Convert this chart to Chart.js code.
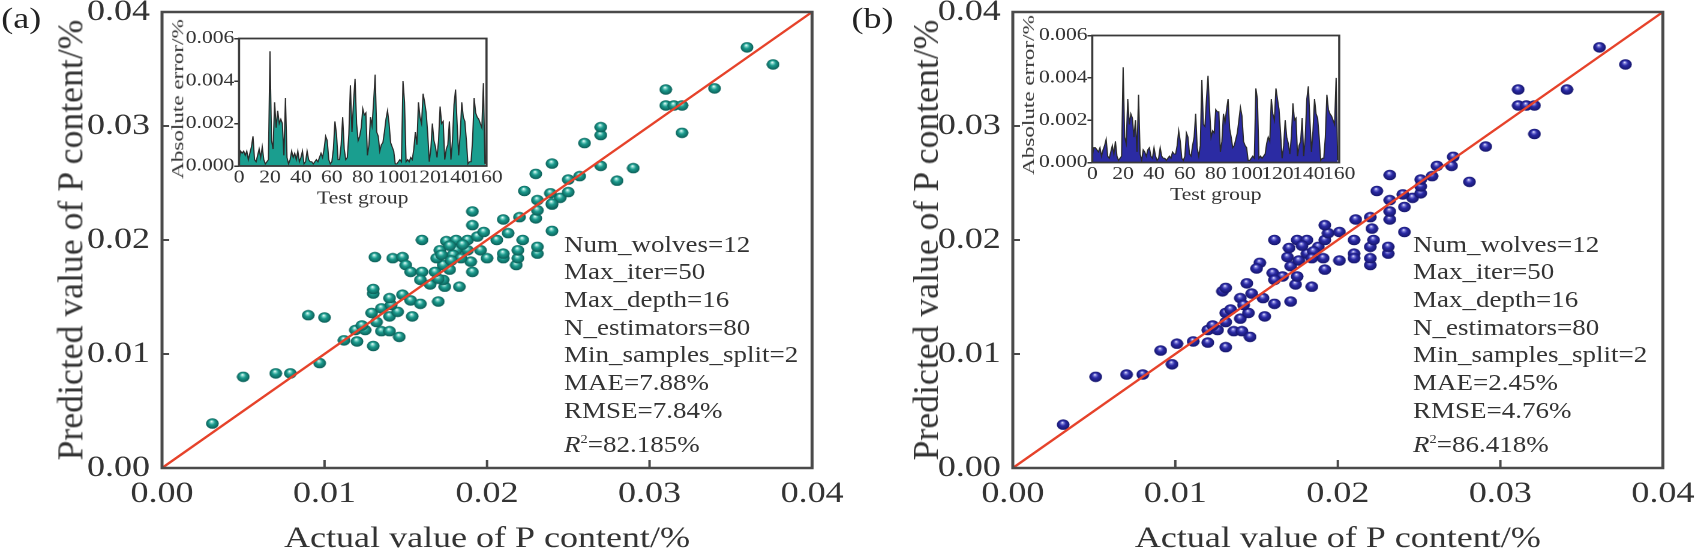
<!DOCTYPE html>
<html><head><meta charset="utf-8">
<script src="https://cdn.jsdelivr.net/npm/chart.js@4.4.1/dist/chart.umd.min.js"></script>
<style>
html,body{margin:0;padding:0;background:#fff;width:1695px;height:550px;overflow:hidden;}
#stage{position:absolute;left:0;top:0;width:1412.5px;height:550px;transform:scaleX(1.2);transform-origin:0 0;font-family:'Liberation Serif','Times New Roman',serif;color:#333;}
canvas{position:absolute;}
.ytitle{position:absolute;white-space:nowrap;line-height:1;color:#333;}
.note{position:absolute;font-size:22.5px;line-height:27.7px;white-space:nowrap;color:#333;}
.note sup{font-size:12px;line-height:0;vertical-align:9px;}
.panel{position:absolute;font-size:30px;line-height:30px;color:#222;}
</style></head><body>
<div id="stage">
  <canvas id="mainA" width="720" height="550" style="left:0px;top:0px"></canvas>
  <canvas id="mainB" width="720" height="550" style="left:708.75px;top:0px"></canvas>
  <canvas id="insetA" width="300" height="200" style="left:120px;top:20px"></canvas>
  <canvas id="insetB" width="300" height="200" style="left:830.8px;top:16.5px"></canvas>
  <div class="panel" style="left:1px;top:3px">(a)</div>
  <div class="panel" style="left:709.5px;top:3px">(b)</div>
  <div class="ytitle" style="left:58.8px;top:240px;font-size:30px;transform:translate(-50%,-50%) rotate(-90deg) scaleX(1.19)">Predicted value of P content/%</div>
  <div class="ytitle" style="left:771.7px;top:240px;font-size:30px;transform:translate(-50%,-50%) rotate(-90deg) scaleX(1.19)">Predicted value of P content/%</div>
  <div class="ytitle" style="left:149px;top:99px;font-size:14px;transform:translate(-50%,-50%) rotate(-90deg) scaleX(1.65)">Absolute error/%</div>
  <div class="ytitle" style="left:858.3px;top:95px;font-size:14px;transform:translate(-50%,-50%) rotate(-90deg) scaleX(1.65)">Absolute error/%</div>
  <div class="note" style="left:470px;top:230.5px">
    <div>Num_wolves=12</div><div>Max_iter=50</div><div>Max_depth=16</div><div>N_estimators=80</div>
    <div>Min_samples_split=2</div><div>MAE=7.88%</div><div>RMSE=7.84%</div>
    <div style="margin-top:7px"><i>R</i><sup>2</sup>=82.185%</div>
  </div>
  <div class="note" style="left:1177.5px;top:230.5px">
    <div>Num_wolves=12</div><div>Max_iter=50</div><div>Max_depth=16</div><div>N_estimators=80</div>
    <div>Min_samples_split=2</div><div>MAE=2.45%</div><div>RMSE=4.76%</div>
    <div style="margin-top:7px"><i>R</i><sup>2</sup>=86.418%</div>
  </div>
</div>
<script>
// ---------------- DATA ----------------
const mainTickLabels = ['0.00','0.01','0.02','0.03','0.04'];
const insetXLabels = ['0','20','40','60','80','100','120','140','160'];
const insetYLabels = ['0.000','0.002','0.004','0.006'];
const fitX = [0, 0.04];
const fitY = [0, 0.04];

const actualA = [0.0031,0.0050,0.0070,0.0079,0.0090,0.0100,0.0097,0.0112,0.0120,0.0130,
 0.0119,0.0125,0.0135,0.0140,0.0146,0.0123,0.0132,0.0129,0.0140,0.0154,
 0.0145,0.0135,0.0141,0.0130,0.0130,0.0140,0.0148,0.0153,0.0159,0.0170,
 0.0142,0.0148,0.0131,0.0150,0.0153,0.0160,0.0160,0.0159,0.0165,0.0183,
 0.0174,0.0173,0.0170,0.0168,0.0177,0.0173,0.0191,0.0190,0.0188,0.0181,
 0.0179,0.0169,0.0171,0.0175,0.0181,0.0188,0.0196,0.0200,0.0210,0.0210,
 0.0218,0.0219,0.0219,0.0231,0.0231,0.0222,0.0240,0.0206,0.0213,0.0194,
 0.0198,0.0191,0.0191,0.0210,0.0220,0.0230,0.0231,0.0240,0.0231,0.0245,
 0.0250,0.0239,0.0223,0.0177,0.0185,0.0172,0.0184,0.0178,0.0230,0.0257,
 0.0250,0.0240,0.0270,0.0280,0.0290,0.0260,0.0270,0.0270,0.0310,0.0310,
 0.0315,0.0320,0.0320,0.0340,0.0360,0.0376,0.0240];
const predictedA = [0.0039,0.0080,0.0083,0.0083,0.0134,0.0132,0.0092,0.0112,0.0111,0.0107,
 0.0121,0.0121,0.0120,0.0120,0.0115,0.0125,0.0128,0.0136,0.0133,0.0133,
 0.0137,0.0140,0.0143,0.0153,0.0157,0.0149,0.0152,0.0147,0.0144,0.0146,
 0.0184,0.0185,0.0185,0.0178,0.0172,0.0200,0.0172,0.0165,0.0161,0.0159,
 0.0159,0.0165,0.0166,0.0172,0.0174,0.0178,0.0172,0.0181,0.0191,0.0191,
 0.0187,0.0184,0.0191,0.0199,0.0200,0.0200,0.0191,0.0184,0.0184,0.0188,
 0.0178,0.0184,0.0191,0.0188,0.0194,0.0200,0.0208,0.0200,0.0206,0.0203,
 0.0207,0.0213,0.0225,0.0218,0.0220,0.0219,0.0226,0.0231,0.0235,0.0237,
 0.0242,0.0241,0.0243,0.0195,0.0196,0.0187,0.0184,0.0182,0.0258,0.0256,
 0.0253,0.0267,0.0265,0.0252,0.0263,0.0285,0.0292,0.0299,0.0332,0.0318,
 0.0318,0.0318,0.0294,0.0333,0.0369,0.0354,0.0232];

const actualB = [0.0031,0.0051,0.0070,0.0080,0.0091,0.0101,0.0098,0.0111,0.0120,0.0131,
 0.0120,0.0126,0.0123,0.0136,0.0141,0.0146,0.0131,0.0131,0.0129,0.0131,
 0.0144,0.0140,0.0145,0.0134,0.0140,0.0147,0.0142,0.0155,0.0154,0.0161,
 0.0171,0.0152,0.0150,0.0161,0.0160,0.0166,0.0161,0.0174,0.0184,0.0175,
 0.0171,0.0176,0.0192,0.0191,0.0181,0.0169,0.0170,0.0175,0.0181,0.0188,
 0.0192,0.0194,0.0201,0.0192,0.0201,0.0210,0.0210,0.0210,0.0220,0.0220,
 0.0220,0.0231,0.0231,0.0222,0.0221,0.0241,0.0211,0.0220,0.0232,0.0232,
 0.0241,0.0232,0.0246,0.0251,0.0240,0.0224,0.0251,0.0251,0.0258,0.0232,
 0.0261,0.0270,0.0271,0.0178,0.0185,0.0184,0.0281,0.0291,0.0311,0.0311,
 0.0316,0.0321,0.0321,0.0341,0.0361,0.0377];
const predictedB = [0.0038,0.0080,0.0082,0.0082,0.0103,0.0109,0.0091,0.0111,0.0110,0.0106,
 0.0121,0.0121,0.0125,0.0120,0.0120,0.0115,0.0136,0.0128,0.0155,0.0158,
 0.0162,0.0131,0.0136,0.0139,0.0149,0.0153,0.0143,0.0133,0.0149,0.0144,
 0.0146,0.0180,0.0175,0.0200,0.0171,0.0168,0.0165,0.0161,0.0159,0.0168,
 0.0177,0.0182,0.0174,0.0184,0.0188,0.0185,0.0193,0.0200,0.0200,0.0194,
 0.0200,0.0206,0.0207,0.0213,0.0182,0.0200,0.0188,0.0184,0.0178,0.0184,
 0.0194,0.0188,0.0194,0.0200,0.0210,0.0207,0.0218,0.0220,0.0218,0.0225,
 0.0229,0.0235,0.0237,0.0241,0.0240,0.0243,0.0247,0.0253,0.0256,0.0257,
 0.0265,0.0265,0.0273,0.0195,0.0190,0.0184,0.0251,0.0282,0.0332,0.0318,
 0.0318,0.0318,0.0293,0.0332,0.0369,0.0354];

const errA = [0.0003,0.0007,0.0006,0.0007,0.0005,0.0007,0.0003,0.0006,0.0009,0.0014,
 0.0003,0.0002,0.0005,0.0008,0.0004,0.0009,0.0003,0.0001,0.0002,0.0003,
 0.0054,0.0012,0.0008,0.0030,0.0018,0.0026,0.0020,0.0022,0.0020,0.0005,
 0.0032,0.0004,0.0001,0.0003,0.0007,0.0004,0.0006,0.0003,0.0007,0.0002,
 0.0004,0.0007,0.0001,0.0002,0.0007,0.0003,0.0002,0.0002,0.0001,0.0002,
 0.0003,0.0002,0.0004,0.0006,0.0004,0.0008,0.0014,0.0012,0.0003,0.0001,
 0.0002,0.0008,0.0021,0.0015,0.0003,0.0003,0.0010,0.0023,0.0008,0.0003,
 0.0004,0.0015,0.0038,0.0016,0.0030,0.0041,0.0020,0.0012,0.0014,0.0018,
 0.0027,0.0024,0.0025,0.0005,0.0010,0.0023,0.0019,0.0030,0.0043,0.0016,
 0.0014,0.0007,0.0010,0.0011,0.0016,0.0022,0.0026,0.0020,0.0011,0.0009,
 0.0007,0.0001,0.0001,0.0002,0.0003,0.0002,0.0040,0.0030,0.0002,0.0003,
 0.0002,0.0004,0.0003,0.0008,0.0016,0.0010,0.0030,0.0023,0.0020,0.0034,
 0.0030,0.0025,0.0015,0.0002,0.0008,0.0020,0.0012,0.0009,0.0004,0.0012,
 0.0028,0.0020,0.0021,0.0003,0.0008,0.0010,0.0021,0.0003,0.0012,0.0029,
 0.0036,0.0020,0.0005,0.0015,0.0030,0.0023,0.0021,0.0012,0.0001,0.0002,
 0.0002,0.0012,0.0032,0.0025,0.0023,0.0022,0.0020,0.0018,0.0039,0.0001];
const errB = [0.0003,0.0007,0.0007,0.0006,0.0005,0.0007,0.0003,0.0006,0.0008,0.0011,
 0.0003,0.0002,0.0005,0.0008,0.0004,0.0010,0.0003,0.0001,0.0002,0.0003,
 0.0045,0.0012,0.0009,0.0030,0.0018,0.0023,0.0021,0.0012,0.0020,0.0005,
 0.0032,0.0004,0.0001,0.0006,0.0005,0.0003,0.0006,0.0007,0.0003,0.0002,
 0.0007,0.0003,0.0001,0.0002,0.0007,0.0003,0.0002,0.0002,0.0001,0.0002,
 0.0003,0.0002,0.0005,0.0004,0.0004,0.0008,0.0015,0.0010,0.0002,0.0001,
 0.0003,0.0014,0.0012,0.0004,0.0003,0.0008,0.0012,0.0023,0.0007,0.0003,
 0.0008,0.0039,0.0018,0.0017,0.0030,0.0041,0.0025,0.0012,0.0015,0.0014,
 0.0025,0.0024,0.0024,0.0005,0.0010,0.0023,0.0019,0.0025,0.0030,0.0016,
 0.0012,0.0007,0.0008,0.0011,0.0014,0.0020,0.0026,0.0022,0.0010,0.0008,
 0.0007,0.0001,0.0001,0.0002,0.0003,0.0002,0.0035,0.0030,0.0002,0.0003,
 0.0002,0.0003,0.0004,0.0009,0.0012,0.0010,0.0030,0.0023,0.0020,0.0035,
 0.0030,0.0025,0.0014,0.0002,0.0008,0.0020,0.0012,0.0009,0.0004,0.0012,
 0.0028,0.0020,0.0021,0.0003,0.0008,0.0010,0.0021,0.0003,0.0012,0.0030,
 0.0036,0.0020,0.0005,0.0015,0.0030,0.0023,0.0021,0.0012,0.0001,0.0002,
 0.0002,0.0012,0.0032,0.0025,0.0023,0.0022,0.0020,0.0018,0.0040,0.0001];
const testGroup = errA.map((_, i) => i);

// ---------------- DRAWING ----------------
Chart.defaults.font.family = "'Liberation Serif','Times New Roman',serif";
Chart.defaults.color = '#333';

const framePlugin = {
  id: 'frame',
  beforeDatasetsDraw(chart, args, o) {
    if (!o.fill) return;
    const a = chart.chartArea, ctx = chart.ctx;
    ctx.save(); ctx.fillStyle = o.fill;
    ctx.fillRect(a.left, a.top, a.right - a.left, a.bottom - a.top);
    ctx.restore();
  },
  afterDatasetsDraw(chart, args, o) {
    const {ctx, chartArea: a, scales} = chart;
    ctx.save();
    ctx.strokeStyle = o.color; ctx.lineWidth = o.width;
    ctx.strokeRect(a.left, a.top, a.right - a.left, a.bottom - a.top);
    if (o.inX) {
      ctx.lineWidth = o.tickWidth || 1.5;
      scales.x.ticks.forEach(t => {
        const p = scales.x.getPixelForValue(t.value);
        ctx.beginPath(); ctx.moveTo(p, a.bottom); ctx.lineTo(p, a.bottom - o.inX); ctx.stroke();
      });
      scales.y.ticks.forEach(t => {
        const p = scales.y.getPixelForValue(t.value);
        ctx.beginPath(); ctx.moveTo(a.left, p); ctx.lineTo(a.left + o.inY, p); ctx.stroke();
      });
    }
    ctx.restore();
  }
};

function ball(stops) {
  const cv = document.createElement('canvas'); cv.width = 22; cv.height = 22;
  const g = cv.getContext('2d');
  const gr = g.createRadialGradient(9.5, 6.5, 0.3, 11, 11, 11);
  stops.forEach(s => gr.addColorStop(s[0], s[1]));
  g.fillStyle = gr; g.beginPath(); g.arc(11, 11, 10.6, 0, Math.PI * 2); g.fill();
  return new Promise(res => {
    const im = new Image();
    im.onload = () => { im.width = 11; im.height = 11; res(im); };
    im.src = cv.toDataURL();
  });
}

function mainChart(id, xs, ys, img) {
  return new Chart(document.getElementById(id), {
    type: 'scatter',
    plugins: [framePlugin],
    data: { datasets: [
      { type: 'line', data: fitX.map((v, i) => ({x: v, y: fitY[i]})), borderColor: '#e6422a', borderWidth: 2.2, pointRadius: 0, fill: false },
      { data: xs.map((v, i) => ({x: v, y: ys[i]})), pointStyle: img, pointRadius: 5.5 }
    ]},
    options: {
      responsive: false, animation: false, devicePixelRatio: 2, events: [],
      layout: { padding: { top: 12, right: 43.3, left: 0, bottom: 0 } },
      plugins: { legend: { display: false }, tooltip: { enabled: false },
        frame: { color: '#4a4a4a', width: 2.5, inX: 8, inY: 6, tickWidth: 2 } },
      scales: {
        x: { type: 'linear', min: 0, max: 0.04,
          afterFit(s) { s.height = 82; s.paddingLeft = 0; s.paddingRight = 0; },
          ticks: { stepSize: 0.01, padding: 8, font: { size: 30 }, color: '#333', maxRotation: 0, autoSkip: false,
                   callback: (v, i) => mainTickLabels[i] },
          grid: { display: false, drawTicks: false }, border: { display: false },
          title: { display: true, text: 'Actual value of P content/%', color: '#333',
                   font: { size: 30, lineHeight: 1 }, padding: { top: 0, bottom: -4 } } },
        y: { type: 'linear', min: 0, max: 0.04,
          afterFit(s) { s.width = 135; s.paddingTop = 0; s.paddingBottom = 0; },
          ticks: { stepSize: 0.01, padding: 10, font: { size: 30 }, color: '#333', autoSkip: false,
                   callback: (v, i) => mainTickLabels[i] },
          grid: { display: false, drawTicks: false }, border: { display: false } }
      }
    }
  });
}

function insetChart(id, errs, fillColor, padRight, xH, titleBottom) {
  return new Chart(document.getElementById(id), {
    type: 'line',
    plugins: [framePlugin],
    data: { datasets: [{
      data: testGroup.map((g, i) => ({x: g, y: errs[i]})),
      fill: 'origin', backgroundColor: fillColor, borderColor: '#2a2a2a', borderWidth: 1,
      pointRadius: 0, tension: 0 }] },
    options: {
      responsive: false, animation: false, devicePixelRatio: 2, events: [],
      layout: { padding: { top: 18.5, right: padRight, left: 0, bottom: 0 } },
      plugins: { legend: { display: false }, tooltip: { enabled: false },
        frame: { color: '#3a3a3a', width: 1.8, fill: '#ffffff' } },
      scales: {
        x: { type: 'linear', min: 0, max: 160,
          afterFit(s) { s.height = xH; s.paddingLeft = 0; s.paddingRight = 0; },
          ticks: { stepSize: 20, padding: 1, font: { size: 18 }, color: '#333', maxRotation: 0, minRotation: 0, autoSkip: false,
                   callback: (v, i) => insetXLabels[i] },
          grid: { display: false, drawTicks: false }, border: { display: false },
          title: { display: true, text: 'Test group', color: '#333', font: { size: 18, lineHeight: 1 },
                   padding: { top: 0, bottom: titleBottom } } },
        y: { type: 'linear', min: 0, max: 0.006,
          afterFit(s) { s.width = 79.2; s.paddingTop = 0; s.paddingBottom = 0; },
          ticks: { stepSize: 0.002, padding: 0, font: { size: 18 }, color: '#333', autoSkip: false,
                   callback: (v, i) => insetYLabels[i] },
          grid: { drawOnChartArea: false, drawTicks: true, tickLength: 4, color: '#333', lineWidth: 1.5 },
          border: { display: false } }
      }
    }
  });
}

Promise.all([
  ball([[0, '#f4fffd'], [0.18, '#86d8cd'], [0.45, '#1c9b8e'], [1, '#0a5a53']]),
  ball([[0, '#f0f0ff'], [0.18, '#8080dc'], [0.45, '#2c2ca6'], [1, '#141468']])
]).then(([tealBall, blueBall]) => {
  mainChart('mainA', actualA, predictedA, tealBall);
  mainChart('mainB', actualB, predictedB, blueBall);
  insetChart('insetA', errA, '#1a9e8f', 14.6, 54, 12);
  insetChart('insetB', errB, '#2b2ba3', 15, 54.5, 12.5);
});
</script>
</body></html>
